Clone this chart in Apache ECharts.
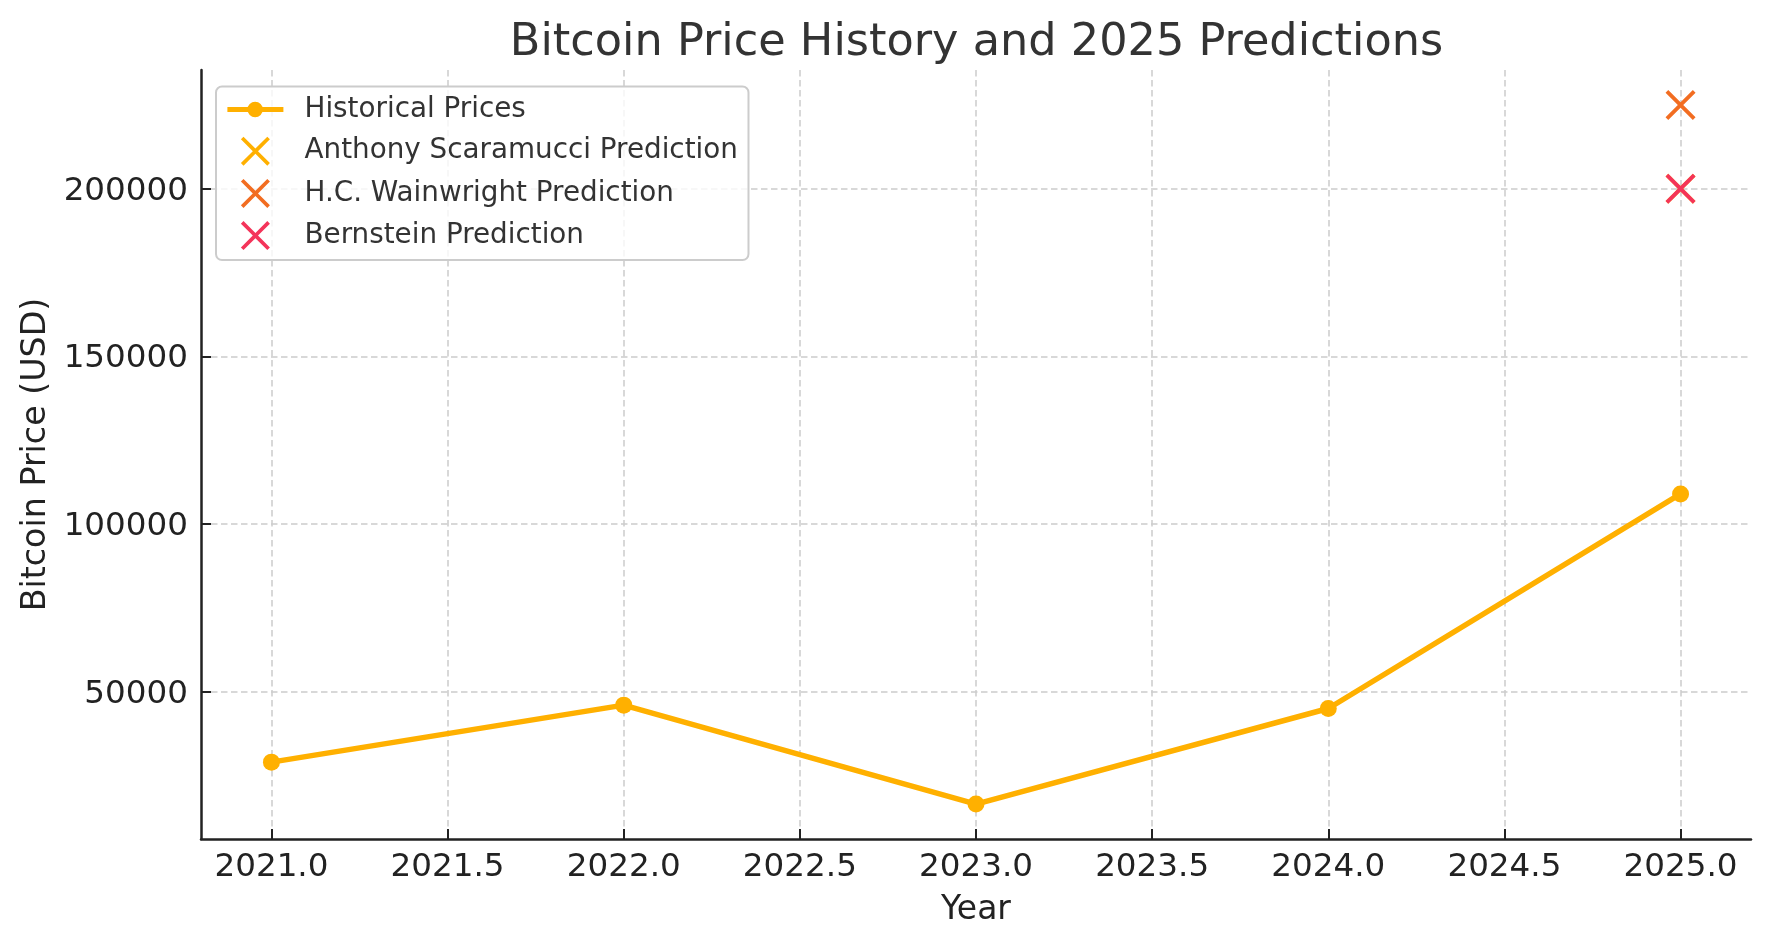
<!DOCTYPE html>
<html>
<head>
<meta charset="utf-8">
<script src="https://cdn.jsdelivr.net/npm/echarts@6/dist/echarts.min.js"></script>
<style>
html,body{margin:0;padding:0;background:#fff;}
#chart{width:1771px;height:947px;}
</style>
</head>
<body>
<div id="chart"></div>
<script>
// ---- data ----
const years = [2021, 2022, 2023, 2024, 2025];
const prices = [29000, 46000, 16500, 45000, 109000];
const predictionYear = 2025;
const scaramucciPrediction = 200000;
const wainwrightPrediction = 225000;
const bernsteinPrediction = 200000;
const xTicks = [2021.0, 2021.5, 2022.0, 2022.5, 2023.0, 2023.5, 2024.0, 2024.5, 2025.0];
const yTicks = [50000, 100000, 150000, 200000];
const seriesNames = ['Historical Prices', 'Anthony Scaramucci Prediction', 'H.C. Wainwright Prediction', 'Bernstein Prediction'];
const titleText = 'Bitcoin Price History and 2025 Predictions';
const xName = 'Year';
const yName = 'Bitcoin Price (USD)';

// ---- styles ----
const FONT = 'DejaVu Sans';
const C_LINE = '#FFB000';
const C_HCW = '#F26D21';
const C_BERN = '#F4345A';
const a = 0.9;
const X_PATH = 'path://M0,' + a + 'L' + a + ',0L5,' + (5 - a) + 'L' + (10 - a) + ',0L10,' + a + 'L' + (5 + a) + ',5L10,' + (10 - a) +
  'L' + (10 - a) + ',10L5,' + (5 + a) + 'L' + a + ',10L0,' + (10 - a) + 'L' + (5 - a) + ',5Z';
const LINE_ICON = 'path://M0,5.25L56,5.25L56,10.25L0,10.25Z M20,7.75A7.75,7.75 0 1,1 35.5,7.75A7.75,7.75 0 1,1 20,7.75Z';

// axis extents with 5% margins like the original plotting library
const allY = prices.concat([scaramucciPrediction, wainwrightPrediction, bernsteinPrediction]);
const yLo = Math.min.apply(null, allY), yHi = Math.max.apply(null, allY);
const yPad = (yHi - yLo) * 0.05;
const xLo = Math.min.apply(null, years), xHi = Math.max.apply(null, years);
const xPad = (xHi - xLo) * 0.05;

const gridLine = {show: true, lineStyle: {color: '#cccccc', width: 1.5, type: [6.5, 3.5]}};
const axisLine = {show: true, onZero: false, lineStyle: {color: '#222222', width: 2.5}};

const chart = echarts.init(document.getElementById('chart'), null, {renderer: 'canvas'});
chart.setOption({
  animation: false,
  backgroundColor: '#ffffff',
  title: {
    text: titleText,
    left: 971.5, textAlign: 'center', top: 15.5,
    textStyle: {fontFamily: FONT, fontSize: 44.6, fontWeight: 'normal', color: '#333333'}
  },
  legend: {
    orient: 'vertical',
    left: 216, top: 86.5,
    padding: [9, 10.6, 10, 11.4],
    itemGap: 13.2,
    itemWidth: 56, itemHeight: 29,
    symbolKeepAspect: true,
    backgroundColor: 'rgba(255,255,255,0.8)',
    borderColor: '#cccccc', borderWidth: 2, borderRadius: 6,
    itemStyle: {opacity: 1},
    textStyle: {fontFamily: FONT, fontSize: 27.8, color: '#333333', padding: [0, 0, 0, 16.1]},
    data: [
      {name: seriesNames[0], icon: LINE_ICON},
      {name: seriesNames[1], icon: X_PATH},
      {name: seriesNames[2], icon: X_PATH},
      {name: seriesNames[3], icon: X_PATH}
    ]
  },
  grid: {left: 201, right: 20, top: 70, bottom: 108, containLabel: false},
  xAxis: {
    type: 'value',
    min: xLo - xPad, max: xHi + xPad,
    name: xName, nameLocation: 'middle', nameGap: 54.5,
    nameTextStyle: {fontFamily: FONT, fontSize: 33, color: '#222222'},
    axisLine: axisLine,
    axisTick: {show: true, inside: true, length: 10, customValues: xTicks, lineStyle: {color: '#222222', width: 2}},
    axisLabel: {show: true, customValues: xTicks, margin: 12, fontFamily: FONT, fontSize: 32.6, color: '#222222',
      formatter: function (v) { return Number(v).toFixed(1); }},
    splitLine: gridLine
  },
  yAxis: {
    type: 'value',
    min: yLo - yPad, max: yHi + yPad,
    name: yName, nameLocation: 'middle', nameGap: 148, nameRotate: 90,
    nameTextStyle: {fontFamily: FONT, fontSize: 33.3, color: '#222222'},
    axisLine: axisLine,
    axisTick: {show: true, inside: true, length: 10, customValues: yTicks, lineStyle: {color: '#222222', width: 2}},
    axisLabel: {show: true, customValues: yTicks, margin: 13, fontFamily: FONT, fontSize: 32.6, color: '#222222',
      formatter: function (v) { return '{v|' + String(Math.round(v)) + '}'; },
      rich: {v: {fontFamily: FONT, fontSize: 32.6, color: '#222222', padding: [5, 0, 0, 0]}}},
    splitLine: gridLine
  },
  series: [
    {
      name: seriesNames[0], type: 'line',
      data: years.map(function (y, i) { return [y, prices[i]]; }),
      symbol: 'circle', symbolSize: 17, showSymbol: true,
      lineStyle: {color: C_LINE, width: 5.5},
      itemStyle: {color: C_LINE, opacity: 1},
      z: 2
    },
    {
      name: seriesNames[1], type: 'scatter',
      data: [[predictionYear, scaramucciPrediction]],
      symbol: X_PATH, symbolSize: 30, symbolKeepAspect: true,
      itemStyle: {color: C_LINE, opacity: 1}, z: 3
    },
    {
      name: seriesNames[2], type: 'scatter',
      data: [[predictionYear, wainwrightPrediction]],
      symbol: X_PATH, symbolSize: 30, symbolKeepAspect: true,
      itemStyle: {color: C_HCW, opacity: 1}, z: 4
    },
    {
      name: seriesNames[3], type: 'scatter',
      data: [[predictionYear, bernsteinPrediction]],
      symbol: X_PATH, symbolSize: 30, symbolKeepAspect: true,
      itemStyle: {color: C_BERN, opacity: 1}, z: 5
    }
  ]
});
</script>
</body>
</html>
